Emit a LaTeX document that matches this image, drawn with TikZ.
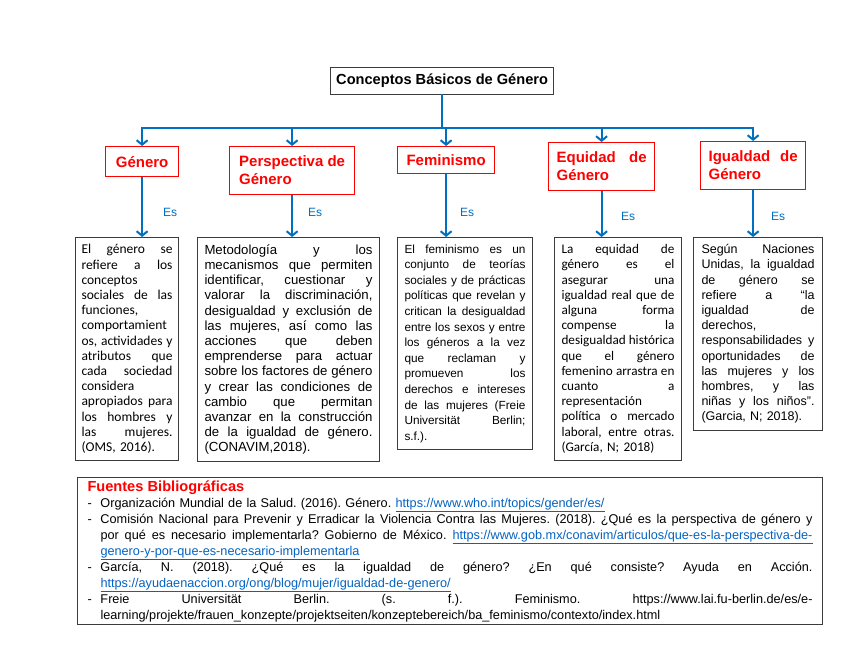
\documentclass[tikz,border=0pt]{standalone}
\usepackage{fontspec}
\setmainfont{Liberation Sans}
\newfontfamily\calibri{Carlito}
\usetikzlibrary{positioning,arrows.meta}
\definecolor{arrblue}{RGB}{0,112,192}
\definecolor{hdred}{RGB}{255,0,0}
\definecolor{linkblue}{RGB}{5,99,193}
\definecolor{frame}{RGB}{60,60,60}
\frenchspacing
% justified line: words spread over the given width
\ExplSyntaxOn
\seq_new:N \l_jl_seq
\cs_new_protected:Npn \jlbox #1 #2
  {
    \seq_set_split:Nnn \l_jl_seq { ~ } {#2}
    \hbox_to_wd:nn {#1} { \seq_use:Nn \l_jl_seq { \hfill } }
  }
\ExplSyntaxOff
\newcommand\jl[1]{\leavevmode\jlbox{\hsize}{#1}\\}
\newcommand\rjl[2]{\makebox[13pt][l]{#1}\jlbox{712pt}{#2}\\}
\newcommand\rll[2]{\makebox[13pt][l]{#1}#2\\}
\newcommand\lnk[1]{\textcolor{linkblue}{\underline{#1}}}

\begin{document}
\begin{tikzpicture}[x=1pt,y=-1pt,
  titlebox/.style={draw=frame,line width=1.2pt,anchor=north west,minimum width=223pt,minimum height=27pt,font=\bfseries\fontsize{14.6}{17}\selectfont},
  cat/.style={draw=hdred,line width=1.2pt,text=hdred,anchor=north west,align=left,inner sep=5pt,font=\bfseries\fontsize{15}{18}\selectfont},
  txt/.style={draw=frame,line width=1pt,anchor=north west,align=left,inner xsep=7pt,inner ysep=7pt},
  es/.style={text=arrblue,font=\fontsize{12}{14}\selectfont},
  line/.style={draw=arrblue,line width=2.2pt,line cap=rect},
  arr/.style={-{Straight Barb[length=4.5pt,width=11pt,line width=2pt]},draw=arrblue,line width=2.2pt}]
\fill[white] (0,0) rectangle (848,655);
\useasboundingbox (0,0) rectangle (848,655);

\node[titlebox] (title) at (330,67) {Conceptos Básicos de Género};

\node[cat,minimum width=73pt,minimum height=30pt] (cat1) at (105,146) {Género};
\node[cat,minimum width=125pt,minimum height=48pt] (cat2) at (229,146) {Perspectiva de\\Género};
\node[cat,minimum width=97pt,minimum height=27pt] (cat3) at (397,146) {Feminismo};
\node[cat,text width=90pt,inner xsep=8pt,minimum height=48pt] (cat4) at (548,142) {\jl{Equidad de}Género};
\node[cat,text width=89pt,inner xsep=8pt,minimum height=48pt] (cat5) at (700,141) {\jl{Igualdad de}Género};

\node[txt,text width=91pt,inner xsep=6pt,font=\calibri\fontsize{13.5}{15.2}\selectfont] (def1) at (75,237) {%
\jl{El género se}\jl{refiere a los}conceptos\\\jl{sociales de las}funciones,\\comportamient\\%
\jl{os, actividades y}\jl{atributos que}\jl{cada sociedad}considera\\\jl{apropiados para}%
\jl{los hombres y}\jl{las mujeres.}(OMS, 2016).};
\node[txt,text width=168pt,font=\fontsize{13.2}{15.2}\selectfont] (def2) at (197,237) {%
\jl{Metodología y los}\jl{mecanismos que permiten}\jl{identificar, cuestionar y}%
\jl{valorar la discriminación,}\jl{desigualdad y exclusión de}\jl{las mujeres, así como las}%
\jl{acciones que deben}\jl{emprenderse para actuar}\jl{sobre los factores de género}%
\jl{y crear las condiciones de}\jl{cambio que permitan}\jl{avanzar en la construcción}%
\jl{de la igualdad de género.}(CONAVIM,2018).};
\node[txt,text width=121pt,font=\fontsize{11.8}{15.6}\selectfont] (def3) at (397,237) {%
\jl{El feminismo es un}\jl{conjunto de teorías}\jl{sociales y de prácticas}%
\jl{políticas que revelan y}\jl{critican la desigualdad}\jl{entre los sexos y entre}%
\jl{los géneros a la vez}\jl{que reclaman y}\jl{promueven los}\jl{derechos e intereses}%
\jl{de las mujeres (Freie}\jl{Universität Berlin;}s.f.).};
\node[txt,text width=113pt,font=\calibri\fontsize{13.2}{15.2}\selectfont] (def4) at (554,237) {%
\jl{La equidad de}\jl{género es el}\jl{asegurar una}\jl{igualdad real que de}%
\jl{alguna forma}\jl{compense la}\jl{desigualdad histórica}\jl{que el género}%
\jl{femenino arrastra en}\jl{cuanto a}representación\\\jl{política o mercado}%
\jl{laboral, entre otras.}(García, N; 2018)};
\node[txt,text width=113pt,inner xsep=8pt,font=\fontsize{12.5}{15.2}\selectfont] (def5) at (693,237) {%
\jl{Según Naciones}\jl{Unidas, la igualdad}\jl{de género se}\jl{refiere a “la}%
\jl{igualdad de}derechos,\\\jl{responsabilidades y}\jl{oportunidades de}%
\jl{las mujeres y los}\jl{hombres, y las}\jl{niñas y los niños”.}(Garcia, N; 2018).};

\node[es] (es1) at (170,212) {Es};
\node[es] (es2) at (315,212) {Es};
\node[es] (es3) at (467,212) {Es};
\node[es] (es4) at (628,216) {Es};
\node[es] (es5) at (778,216) {Es};

% tree connectors
\coordinate (bar) at (443,128);
\draw[line] (title.south) -- (title.south |- bar);
\draw[line] (cat1.north |- bar) -- (cat5.north |- bar);
\foreach \c in {1,...,5}{
  \draw[arr] (cat\c.north |- bar) -- (cat\c.north);
  \draw[arr] (cat\c.south) -- (cat\c.south |- def\c.north);
}

\node[txt,text width=725pt,inner xsep=10pt,inner ysep=3pt,font=\fontsize{12.7}{16}\selectfont] (refs) at (77,477) {%
{\color{hdred}\bfseries\fontsize{14.6}{16}\selectfont Fuentes Bibliográficas}\\
\rll{-}{Organización Mundial de la Salud. (2016). Género. \lnk{https://www.who.int/topics/gender/es/}}
\rjl{-}{Comisión Nacional para Prevenir y Erradicar la Violencia Contra las Mujeres. (2018). ¿Qué es la perspectiva de género y}
\rjl{}{por qué es necesario implementarla? Gobierno de México. \lnk{https://www.gob.mx/conavim/articulos/que-es-la-perspectiva-de-}}
\rll{}{\lnk{genero-y-por-que-es-necesario-implementarla}}
\rjl{-}{García, N. (2018). ¿Qué es la igualdad de género? ¿En qué consiste? Ayuda en Acción.}
\rll{}{\lnk{https://ayudaenaccion.org/ong/blog/mujer/igualdad-de-genero/}}
\rjl{-}{Freie Universität Berlin. (s. f.). Feminismo. https://www.lai.fu-berlin.de/es/e-}
\makebox[13pt][l]{}learning/projekte/frauen\_konzepte/projektseiten/konzeptebereich/ba\_feminismo/contexto/index.html};
\end{tikzpicture}
\end{document}
